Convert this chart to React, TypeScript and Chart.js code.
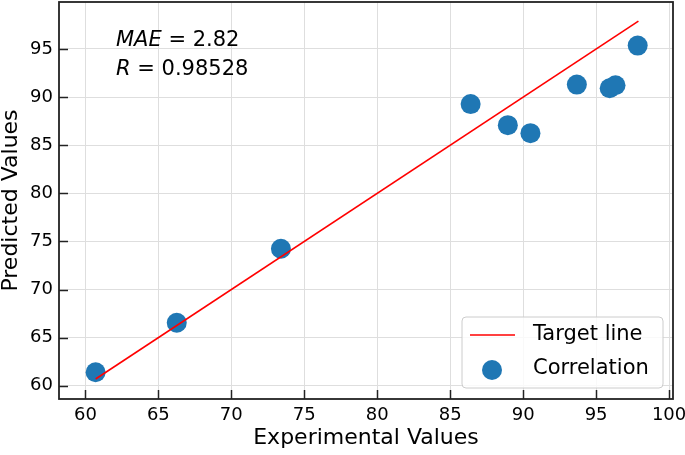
import React, { useEffect, useRef } from "react";
import { Chart, registerables } from "chart.js";

Chart.register(...registerables);

const experimentalValues = [60.7, 66.26, 73.4, 86.4, 88.95, 90.5, 93.68, 95.93, 96.33, 97.85];
const predictedValues = [61.4, 66.55, 74.23, 89.27, 87.08, 86.25, 91.3, 90.92, 91.23, 95.35];
const targetLineX = [60.7, 97.9];
const targetLineY = [60.7, 97.9];
const xTickValues = [60, 65, 70, 75, 80, 85, 90, 95, 100];
const yTickValues = [60, 65, 70, 75, 80, 85, 90, 95];
const xTitle = "Experimental Values";
const yTitle = "Predicted Values";
const legendLabels = ["Target line", "Correlation"];
const statNames = ["MAE", "R"];
const statValues = ["2.82", "0.98528"];

const FONT = "'DejaVu Sans', sans-serif";
const BLUE = "#1f77b4";
const RED = "#ff0000";

const decorPlugin = {
  id: "decor",
  beforeDatasetsDraw(chart: any) {
    const { ctx, chartArea } = chart;
    const { left } = chartArea;
    ctx.save();
    ctx.fillStyle = "#000";
    ctx.textBaseline = "middle";
    ctx.textAlign = "left";
    const rows = [41, 70];
    statNames.forEach((name, i) => {
      const x0 = left + 57;
      ctx.font = `italic 21px ${FONT}`;
      ctx.fillText(name, x0, rows[i]);
      const w = ctx.measureText(name).width;
      ctx.font = `21px ${FONT}`;
      ctx.fillText(" = " + statValues[i], x0 + w, rows[i]);
    });
    ctx.restore();
  },
  afterDraw(chart: any) {
    const { ctx, chartArea, scales } = chart;
    const { left, right, top, bottom } = chartArea;
    ctx.save();
    ctx.strokeStyle = "#222";
    ctx.lineWidth = 1.5;
    const tl = 9;
    xTickValues.forEach((v) => {
      const px = Math.round(scales.x.getPixelForValue(v)) + 0.5;
      ctx.beginPath();
      ctx.moveTo(px, bottom);
      ctx.lineTo(px, bottom - tl);
      ctx.stroke();
    });
    yTickValues.forEach((v) => {
      const py = Math.round(scales.y.getPixelForValue(v)) + 0.5;
      ctx.beginPath();
      ctx.moveTo(left, py);
      ctx.lineTo(left + tl, py);
      ctx.stroke();
    });
    ctx.strokeStyle = "#222";
    ctx.lineWidth = 1.8;
    ctx.strokeRect(left, top, right - left, bottom - top);

    // legend
    const bx = 462, by = 317, bw = 201, bh = 71, r = 4;
    ctx.beginPath();
    ctx.moveTo(bx + r, by);
    ctx.lineTo(bx + bw - r, by);
    ctx.quadraticCurveTo(bx + bw, by, bx + bw, by + r);
    ctx.lineTo(bx + bw, by + bh - r);
    ctx.quadraticCurveTo(bx + bw, by + bh, bx + bw - r, by + bh);
    ctx.lineTo(bx + r, by + bh);
    ctx.quadraticCurveTo(bx, by + bh, bx, by + bh - r);
    ctx.lineTo(bx, by + r);
    ctx.quadraticCurveTo(bx, by, bx + r, by);
    ctx.closePath();
    ctx.fillStyle = "rgba(255,255,255,0.8)";
    ctx.fill();
    ctx.strokeStyle = "#cccccc";
    ctx.lineWidth = 1;
    ctx.stroke();

    ctx.strokeStyle = RED;
    ctx.lineWidth = 1.5;
    ctx.beginPath();
    ctx.moveTo(470, 335);
    ctx.lineTo(515, 335);
    ctx.stroke();

    ctx.fillStyle = BLUE;
    ctx.beginPath();
    ctx.arc(492, 370, 10, 0, Math.PI * 2);
    ctx.fill();

    ctx.fillStyle = "#000";
    ctx.font = `21px ${FONT}`;
    ctx.textBaseline = "middle";
    ctx.textAlign = "left";
    ctx.fillText(legendLabels[0], 533, 335);
    ctx.fillText(legendLabels[1], 533, 369);
    ctx.restore();
  },
};

export default function App() {
  const ref = useRef<HTMLCanvasElement>(null);
  useEffect(() => {
    if (!ref.current) return;
    const chart = new Chart(ref.current, {
      type: "scatter",
      data: {
        datasets: [
          {
            type: "line",
            label: legendLabels[0],
            data: targetLineX.map((x, i) => ({ x, y: targetLineY[i] })),
            borderColor: RED,
            borderWidth: 1.6,
            pointRadius: 0,
            showLine: true,
            fill: false,
          } as any,
          {
            type: "scatter",
            label: legendLabels[1],
            data: experimentalValues.map((x, i) => ({ x, y: predictedValues[i] })),
            backgroundColor: BLUE,
            borderWidth: 0,
            pointRadius: 10,
            pointHoverRadius: 10,
          },
        ],
      },
      options: {
        responsive: false,
        animation: false,
        devicePixelRatio: 1,
        layout: { autoPadding: false, padding: { left: 0, top: 2, right: 12, bottom: 2 } },
        plugins: { legend: { display: false }, tooltip: { enabled: false } },
        scales: {
          x: {
            type: "linear",
            min: 58.19,
            max: 100.27,
            afterFit: (s: any) => { s.height = 54; s.paddingLeft = 0; s.paddingRight = 0; },
            afterBuildTicks: (s: any) => { s.ticks = xTickValues.map((v) => ({ value: v })); },
            grid: { color: "#dedede", lineWidth: 1, drawTicks: false },
            border: { display: false },
            ticks: { font: { family: FONT, size: 18 }, color: "#000", padding: 6, maxRotation: 0 },
            title: { display: true, text: xTitle, font: { family: FONT, size: 22 }, color: "#000", padding: { top: 0, bottom: 2 } },
          },
          y: {
            type: "linear",
            min: 58.62,
            max: 99.88,
            afterFit: (s: any) => { s.width = 59; s.paddingTop = 0; s.paddingBottom = 0; },
            afterBuildTicks: (s: any) => { s.ticks = yTickValues.map((v) => ({ value: v })); },
            grid: { color: "#dedede", lineWidth: 1, drawTicks: false },
            border: { display: false },
            ticks: { font: { family: FONT, size: 18 }, color: "#000", padding: 6 },
            title: { display: true, text: yTitle, font: { family: FONT, size: 22 }, color: "#000", padding: { top: -2, bottom: 0 } },
          },
        },
      },
      plugins: [decorPlugin],
    });
    return () => chart.destroy();
  }, []);
  return (
    <div style={{ position: "fixed", left: 0, top: 0, width: 685, height: 455, background: "#fff" }}>
      <canvas ref={ref} width={685} height={455} style={{ display: "block" }} />
    </div>
  );
}
